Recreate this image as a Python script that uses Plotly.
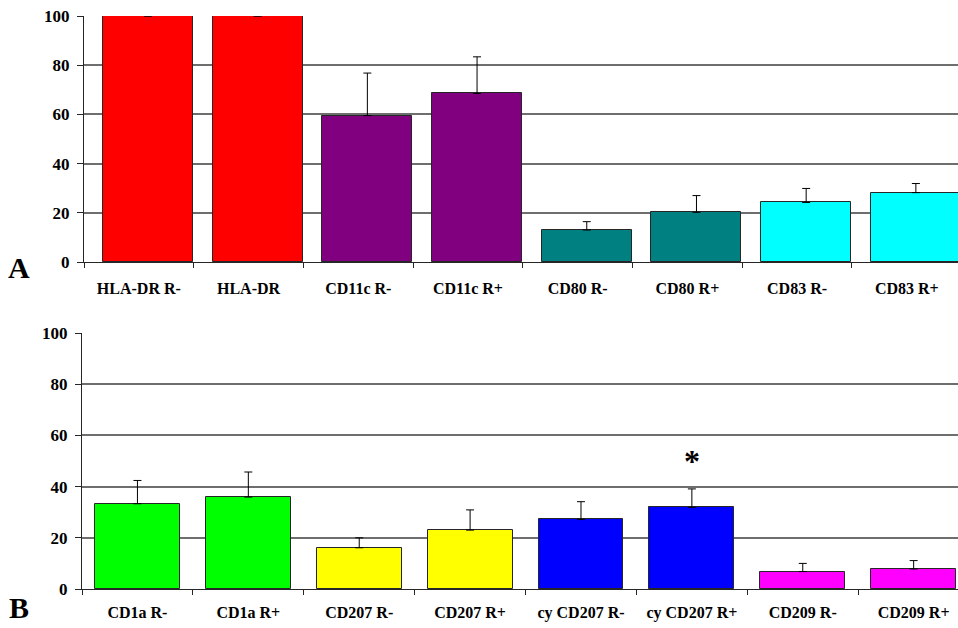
import plotly.graph_objects as go

# ---- data ----
cats_a = ["HLA-DR R-", "HLA-DR", "CD11c R-", "CD11c R+", "CD80 R-", "CD80 R+", "CD83 R-", "CD83 R+"]
vals_a = [100, 100, 59.5, 68.5, 13.0, 20.2, 24.2, 28.2]
err_a = [0, 0, 17.3, 14.9, 3.4, 6.8, 5.7, 3.7]
colors_a = ["#FF0000", "#FF0000", "#800080", "#800080", "#008080", "#008080", "#00FFFF", "#00FFFF"]

cats_b = ["CD1a R-", "CD1a R+", "CD207 R-", "CD207 R+", "cy CD207 R-", "cy CD207 R+", "CD209 R-", "CD209 R+"]
vals_b = [33.3, 35.9, 16.1, 23.0, 27.2, 31.9, 6.8, 7.8]
err_b = [9.1, 9.8, 3.9, 7.9, 6.9, 7.2, 3.2, 3.3]
colors_b = ["#00FF00", "#00FF00", "#FFFF00", "#FFFF00", "#0000FF", "#0000FF", "#FF00FF", "#FF00FF"]

y_ticks = [0, 20, 40, 60, 80, 100]
star_cat = "cy CD207 R+"
star_y = 51

W, H = 958, 628
font = dict(family="Liberation Serif", size=16, color="black", weight="bold")
yfont = dict(family="Liberation Serif", size=17, color="black", weight="bold")

fig = go.Figure()
fig.add_trace(go.Bar(
    x=cats_a, y=vals_a, xaxis="x", yaxis="y",
    marker=dict(color=colors_a, line=dict(color="#262626", width=1)),
    width=0.82, offset=-0.327,
    error_y=dict(type="data", array=err_a, arrayminus=[0] * len(err_a), symmetric=False,
                 color="black", thickness=1, width=4),
    showlegend=False,
))
fig.add_trace(go.Bar(
    x=cats_b, y=vals_b, xaxis="x2", yaxis="y2",
    marker=dict(color=colors_b, line=dict(color="#262626", width=1)),
    width=0.766,
    error_y=dict(type="data", array=err_b, arrayminus=[0] * len(err_b), symmetric=False,
                 color="black", thickness=1, width=4),
    showlegend=False,
))

xcommon = dict(type="category", showgrid=False, showline=True, linecolor="#262626", linewidth=1,
               ticks="outside", tickson="boundaries", ticklen=5, tickcolor="#262626",
               tickfont=font, fixedrange=True, automargin=False)
ycommon = dict(range=[0, 100], tickvals=y_ticks, showgrid=True, gridcolor="#6e6e6e", gridwidth=1.5,
               showline=True, linecolor="#262626", linewidth=1, ticks="outside", ticklen=6,
               tickcolor="#262626", tickfont=yfont, zeroline=False, ticklabelstandoff=4,
               automargin=False, fixedrange=True)

fig.update_layout(
    width=W, height=H, margin=dict(l=0, r=0, t=0, b=0, pad=0, autoexpand=False),
    paper_bgcolor="white", plot_bgcolor="white", bargap=0,
    xaxis=dict(**xcommon, domain=[84 / W, 1], range=[-0.5, 7.467], anchor="y", ticklabelstandoff=12),
    yaxis=dict(**ycommon, domain=[(H - 262) / H, (H - 16) / H], anchor="x"),
    xaxis2=dict(**xcommon, domain=[82 / W, 1], range=[-0.5, 7.4], anchor="y2", ticklabelstandoff=9),
    yaxis2=dict(**ycommon, domain=[(H - 589) / H, (H - 333) / H], anchor="x2"),
    annotations=[
        dict(text="A", xref="paper", yref="paper", x=19 / W, y=(H - 267) / H, showarrow=False,
             font=dict(family="Liberation Serif", size=30, color="black", weight="bold"),
             xanchor="center", yanchor="middle"),
        dict(text="B", xref="paper", yref="paper", x=19 / W, y=(H - 607) / H, showarrow=False,
             font=dict(family="Liberation Serif", size=30, color="black", weight="bold"),
             xanchor="center", yanchor="middle"),
        dict(text="*", xref="x2", yref="y2", x=star_cat, y=star_y, showarrow=False,
             font=dict(family="Liberation Serif", size=32, color="black", weight="bold"),
             xanchor="center", yanchor="middle", yshift=-3),
    ],
)

fig.write_html("out.html", config={"displayModeBar": False},
               post_script="document.body.style.margin='0';document.body.style.overflow='hidden';")
